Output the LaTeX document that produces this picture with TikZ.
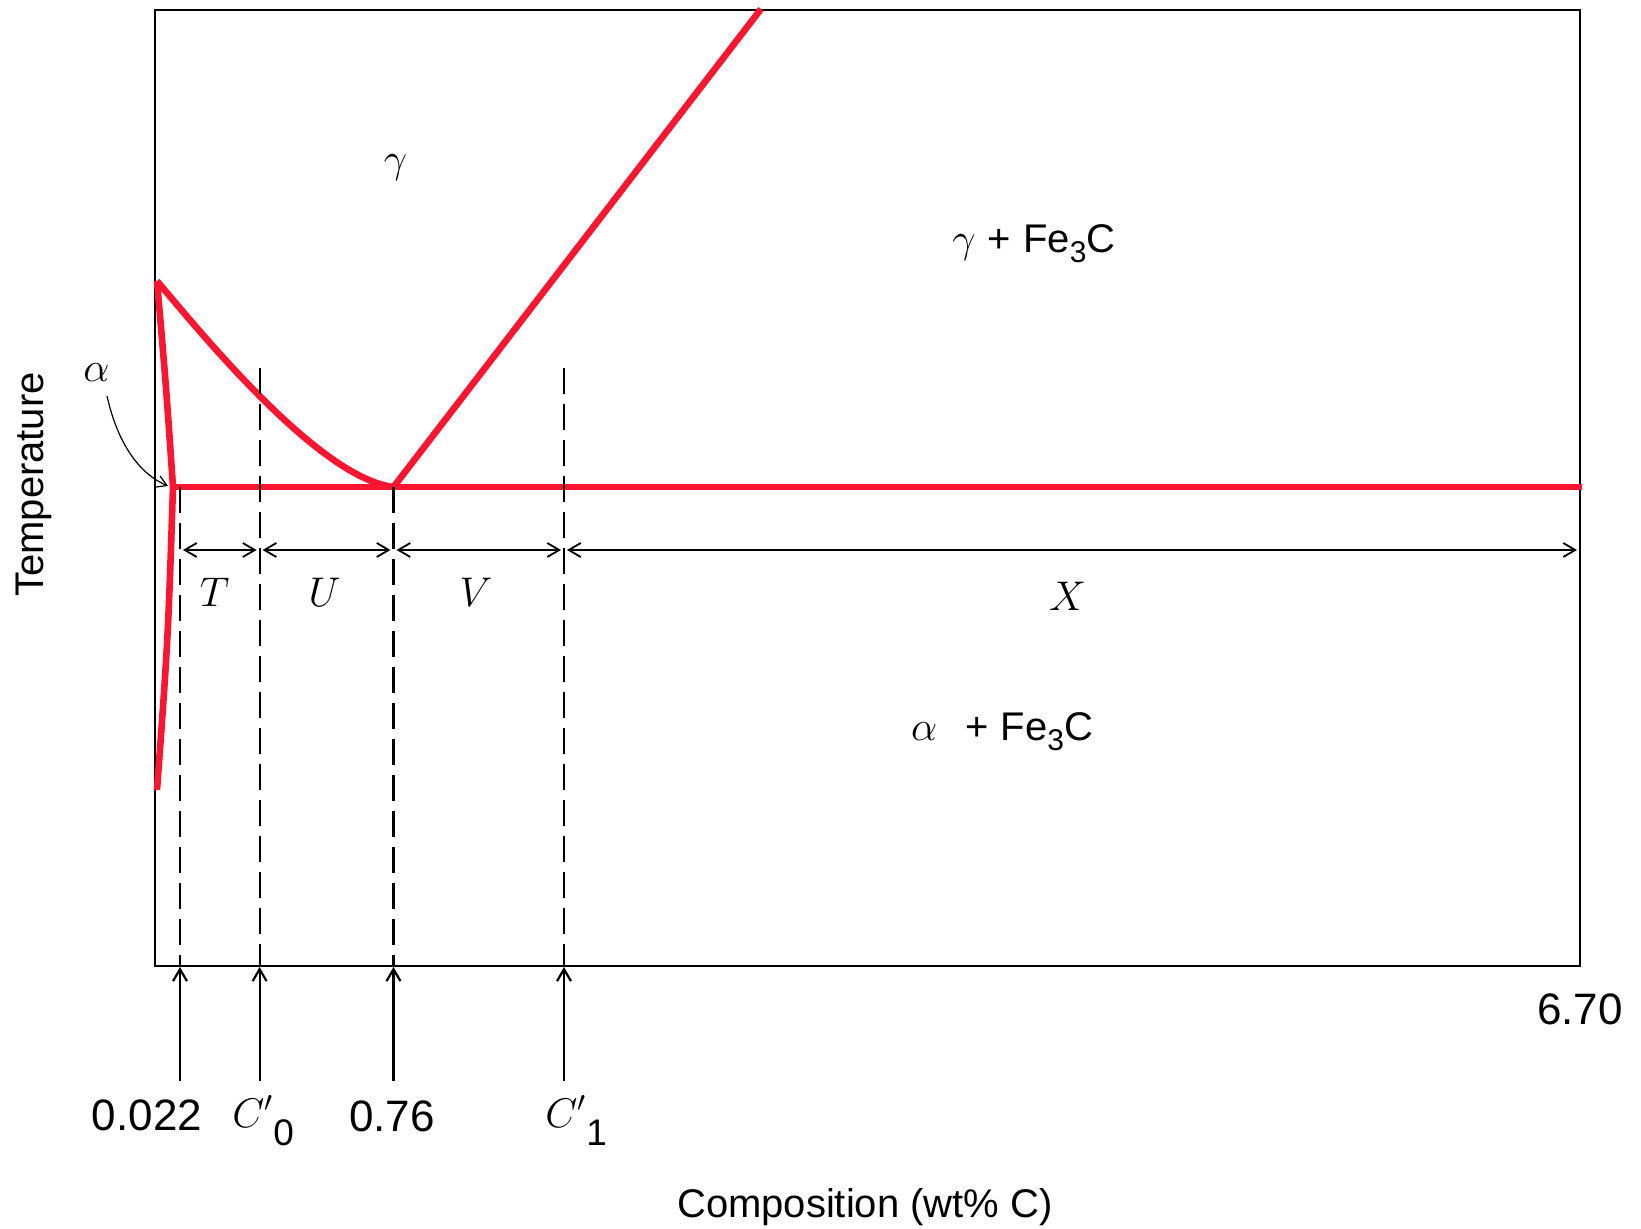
\documentclass[tikz,border=0pt]{standalone}
\usepackage{fontspec}
\newfontfamily\sansf{Liberation Sans}
\usetikzlibrary{arrows.meta}
\definecolor{phred}{RGB}{250,22,48}
\newcommand{\FeC}{{\sansf Fe\raisebox{-5pt}{\fontsize{15pt}{15pt}\selectfont 3}C}}
\newcommand{\lowsub}[1]{\raisebox{-9pt}{\sansf\fontsize{18.5pt}{18.5pt}\selectfont #1}}
\begin{document}
\begin{tikzpicture}[x=0.5pt,y=-0.5pt,
  phase/.style={draw=phred,line width=3.3pt,line join=round},
  frame/.style={draw=black,line width=1.2pt},
  guide/.style={draw=black,line width=1.1pt,dash pattern=on 13pt off 5pt},
  dimline/.style={draw=black,line width=0.9pt,shorten <=1.5pt,shorten >=1.5pt,
    {Straight Barb[length=6pt,width=7pt]}-{Straight Barb[length=6pt,width=7pt]}},
  pointer/.style={draw=black,line width=1.1pt,-{Straight Barb[length=6pt,width=7pt]}},
  thinpointer/.style={draw=black,line width=0.6pt,-{Straight Barb[length=5pt,width=6pt]}},
  slbl/.style={inner sep=0pt,font=\sansf\fontsize{22pt}{26pt}\selectfont},
  axlbl/.style={inner sep=0pt,font=\sansf\fontsize{20pt}{24pt}\selectfont},
  mlbl/.style={inner sep=0pt,font=\fontsize{22pt}{26pt}\selectfont},
  rlbl/.style={inner sep=0pt,font=\fontsize{20pt}{24pt}\selectfont},
]
\useasboundingbox (0,0) rectangle (1641,1229);
% frame
\coordinate (TL) at (155,10);
\coordinate (BR) at (1580,966);
\draw[frame] (TL) rectangle (BR);
% phase boundaries
\coordinate (A) at (157,281);
\coordinate (Ac) at (173,487);
\coordinate (Ab) at (157,790);
\coordinate (E) at (393.5,487);
\coordinate (G) at (761,9);
\coordinate (R) at (1582,487);
\draw[phase] (A) .. controls (166,385) .. (Ac) .. controls (168,640) .. (Ab);
\draw[phase] (Ac) -- (R);
\draw[phase] (A) .. controls (205,338) and (320,478) .. (E) -- (G);
% dashed guides
\coordinate (d1t) at (180,487);   \coordinate (d1b) at (180,966);
\coordinate (d2t) at (259.6,368); \coordinate (d2b) at (259.6,966);
\coordinate (d3t) at (393.5,487); \coordinate (d3b) at (393.5,966);
\coordinate (d4t) at (564,368);   \coordinate (d4b) at (564,966);
\draw[guide] (d1t) -- (d1b);
\draw[guide] (d2t) -- (d2b);
\draw[guide] (d3t) -- (d3b);
\draw[guide] (d4t) -- (d4b);
% dimension line
\coordinate (m1) at (180,550);
\coordinate (m2) at (259.6,550);
\coordinate (m3) at (393.5,550);
\coordinate (m4) at (564,550);
\coordinate (m5) at (1580,550);
\draw[dimline] (m1) -- (m2);
\draw[dimline] (m2) -- (m3);
\draw[dimline] (m3) -- (m4);
\draw[dimline] (m4) -- (m5);
\node[mlbl] (T) at (214.5,592) {$T$};
\node[mlbl] (U) at (324.5,592) {$U$};
\node[mlbl] (V) at (476,592) {$V$};
\node[mlbl] (X) at (1067.5,596) {$X$};
% region labels
\node[mlbl] (gam) at (395.6,167.5) {$\gamma$};
\node[rlbl] (gfc) at (1034,244) {$\gamma$ {\sansf +} \FeC};
\node[rlbl] (afc) at (1002,732) {$\alpha$\hspace{8pt} {\sansf +} \FeC};
\node[mlbl] (alab) at (96.3,372.6) {$\alpha$};
\coordinate (astart) at (107,396);
\coordinate (atip) at (168,486);
\draw[thinpointer] (astart) .. controls (118,445) and (140,474) .. (atip);
% bottom arrows and labels
\coordinate (b1) at (180,1081);   \coordinate (t1) at (180,967);
\coordinate (b2) at (259.6,1081); \coordinate (t2) at (259.6,967);
\coordinate (b3) at (393.5,1081); \coordinate (t3) at (393.5,967);
\coordinate (b4) at (564,1081);   \coordinate (t4) at (564,967);
\draw[pointer] (b1) -- (t1);
\draw[pointer] (b2) -- (t2);
\draw[pointer] (b3) -- (t3);
\draw[pointer] (b4) -- (t4);
\node[slbl,anchor=base] (l022) at (147,1130) {0.022};
\node[mlbl,anchor=base west] (lc0) at (232,1127) {$C'$\lowsub{0}};
\node[slbl,anchor=base] (l076) at (392,1131) {0.76};
\node[mlbl,anchor=base west] (lc1) at (545,1127) {$C'$\lowsub{1}};
\node[slbl,anchor=base] (l670) at (1580,1024) {6.70};
% axis titles
\node[axlbl,anchor=base] (xt) at (865,1217) {Composition (wt\% C)};
\node[axlbl,anchor=base,rotate=90] (yt) at (43,484.5) {Temperature};
\end{tikzpicture}
\end{document}
